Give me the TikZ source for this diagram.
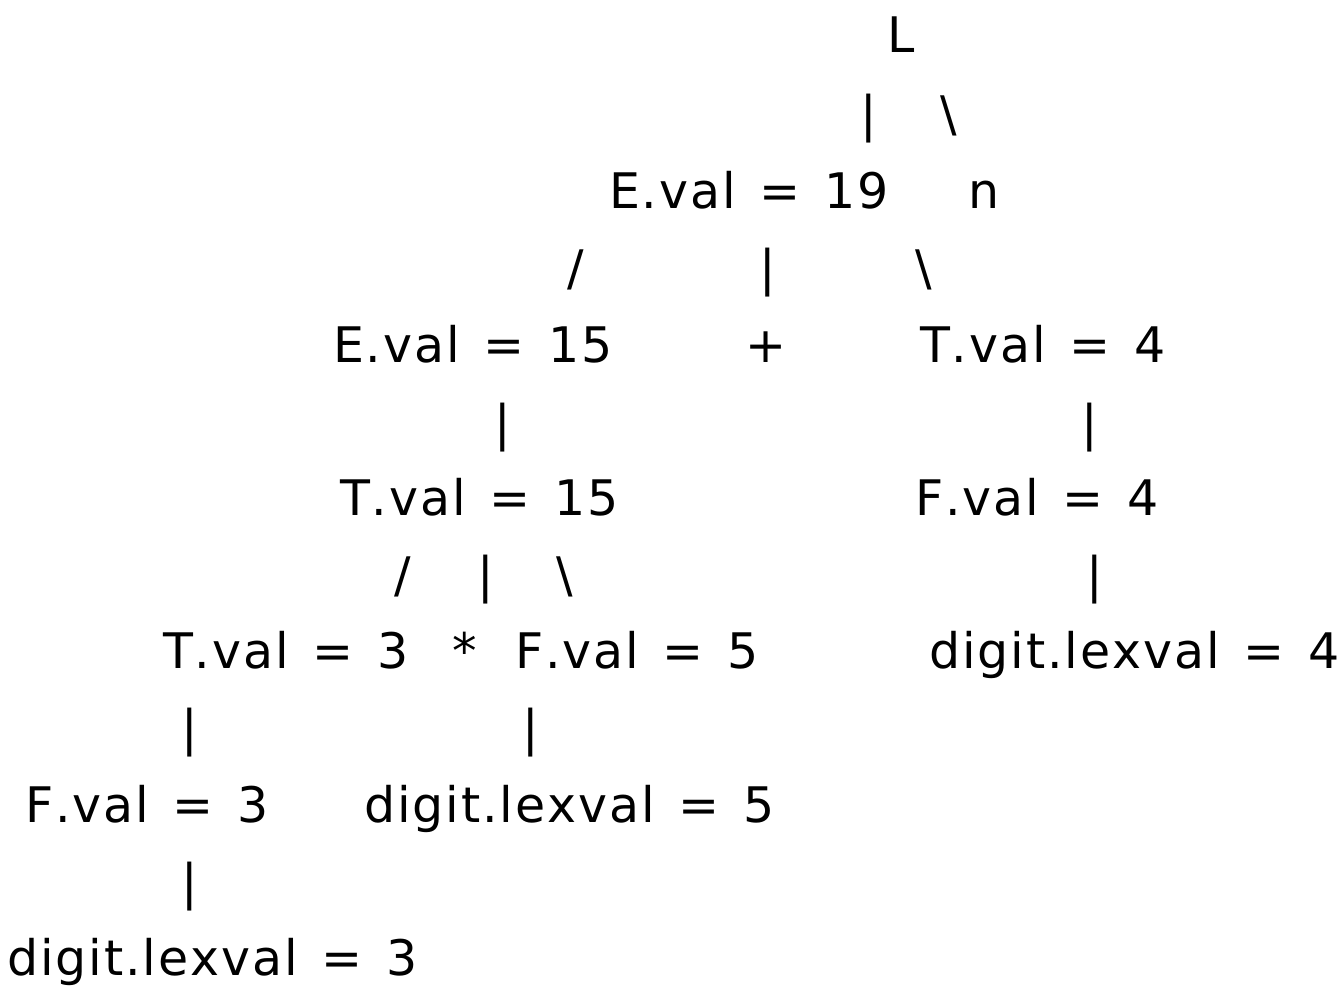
\documentclass[tikz,border=0pt]{standalone}
\usepackage{fontspec}
\setmainfont{DejaVu Sans}[LetterSpace=4,WordSpace=1.35,Kerning=Off]
\begin{document}
\begin{tikzpicture}[x=1pt,y=-1pt,
  val/.style={anchor=base west, inner sep=0pt, outer sep=0pt, font=\fontsize{49}{58}\selectfont},
  bar/.style={anchor=base, inner sep=0pt, outer sep=0pt, font=\fontsize{49}{58}\selectfont}]
\useasboundingbox (0,0) rectangle (1341,986);
% root
\node[bar] (L) at (901,52) {L};
\node[bar] (l1) at (869,131) {|};
\node[bar] (l2) at (949,131) {\textbackslash};
\node[val] (e19) at (609,208) {E.val = 19};
\node[bar] (nl) at (984,208) {n};
% E.val = 19 -> E + T
\node[bar] (b1) at (576,285) {/};
\node[bar] (b2) at (768,285) {|};
\node[bar] (b3) at (924,285) {\textbackslash};
\node[val] (e15) at (333,362) {E.val = 15};
\node[bar] (plus) at (766,362) {+};
\node[val] (t4) at (920,362) {T.val = 4};
\node[bar] (b4) at (503,440) {|};
\node[bar] (b5) at (1090,440) {|};
\node[val] (t15) at (340,515) {T.val = 15};
\node[val] (f4) at (915,515) {F.val = 4};
% T.val = 15 -> T * F
\node[bar] (b6) at (403,592) {/};
\node[bar] (b7) at (486,592) {|};
\node[bar] (b8) at (565,592) {\textbackslash};
\node[bar] (b9) at (1095,592) {|};
\node[val] (t3) at (163,668) {T.val = 3};
\node[bar] (star) at (465,668) {*};
\node[val] (f5) at (515,668) {F.val = 5};
\node[val] (d4) at (929,668) {digit.lexval = 4};
\node[bar] (b10) at (190,745) {|};
\node[bar] (b11) at (531,745) {|};
\node[val] (f3) at (25,822) {F.val = 3};
\node[val] (d5) at (364,822) {digit.lexval = 5};
\node[bar] (b12) at (190,899) {|};
\node[val] (d3) at (7,975) {digit.lexval = 3};
\end{tikzpicture}
\end{document}
